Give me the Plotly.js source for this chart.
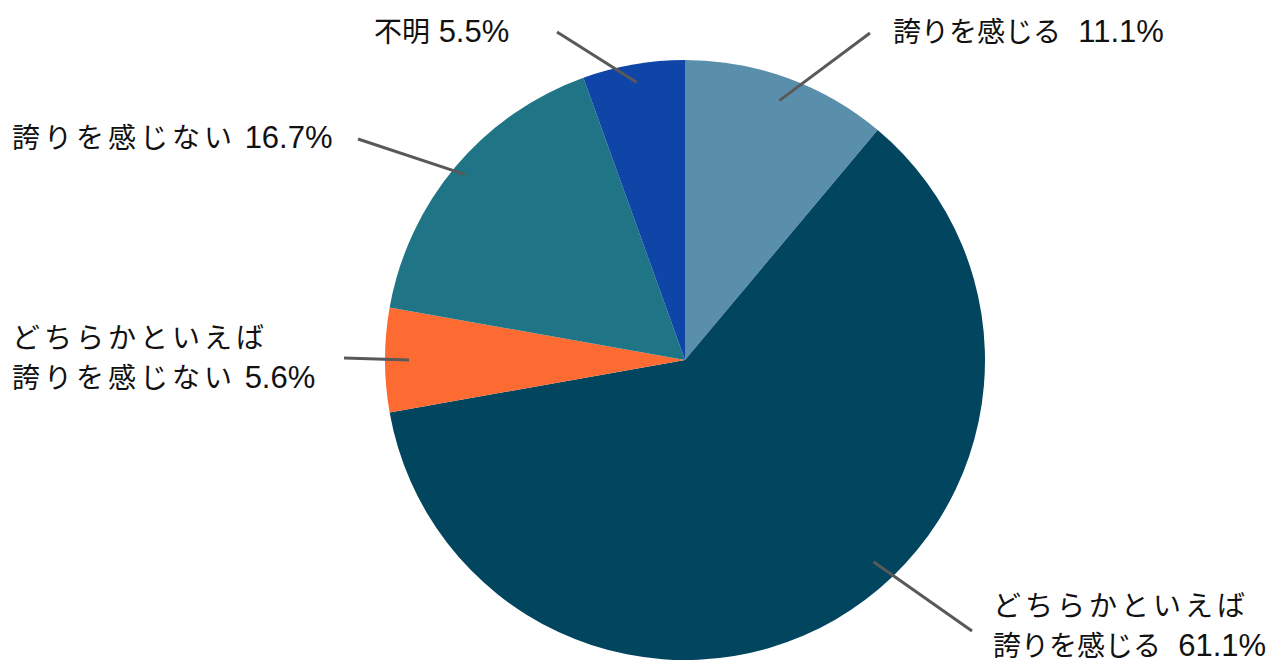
<!DOCTYPE html>
<html>
<head>
<meta charset="utf-8">
<script src="https://cdn.plot.ly/plotly-3.0.1.min.js"></script>
<style>
html,body{margin:0;padding:0;background:#fff;}
#chart{width:1286px;height:665px;}
</style>
</head>
<body>
<div id="chart"></div>
<script>
// ---- data ----
const categories = ["誇りを感じる", "どちらかといえば<br>誇りを感じる", "どちらかといえば<br>誇りを感じない", "誇りを感じない", "不明"];
const values = [11.1, 61.1, 5.6, 16.7, 5.5];
const colors = ["#5a8fab", "#02455f", "#fe6b32", "#1f7585", "#1045a8"];

// ---- label placement (layout only) ----
const W = 1286, H = 665;
const cx = 685, cy = 360, R = 300;
// per label: angle offset (deg), inner radius fraction, elbow end point (px), text anchor, gap, per-line letter spacing
const labelLayout = [
  {da: 0,   rf: 0.92, ex: 870, ey: 33,  tx: 891, ty: 30,  gap: "&nbsp;&nbsp;", ls: [0]},
  {da: -13, rf: 0.92, ex: 972, ey: 631, tx: 991, ty: 624, gap: "&nbsp;&nbsp;", ls: [4, 0]},
  {da: 0,   rf: 0.92, ex: 344, ey: 358, tx: 10,  ty: 356, gap: "&nbsp;", ls: [4, 4]},
  {da: 0,   rf: 0.96, ex: 358, ey: 139, tx: 10,  ty: 136, gap: "&nbsp;", ls: [4]},
  {da: 0,   rf: 0.94, ex: 557, ey: 32,  tx: 372, ty: 30,  gap: "&nbsp;", ls: [0]}
];

const total = values.reduce((a, b) => a + b, 0);
const px2x = p => p / W;
const px2y = p => 1 - p / H;

function cjk(s, ls) {
  return s.split("<br>").map((t, k) =>
    '<span style="font-family:\'Noto Sans CJK JP\';font-size:28px;letter-spacing:' + (ls[k] || 0) + 'px">' + t + '</span>'
  ).join("<br>");
}

const shapes = [];
const annotations = [];
let cum = 0;
values.forEach((v, i) => {
  const mid = (cum + v / 2) / total * 360;
  cum += v;
  const L = labelLayout[i];
  const a = (mid + L.da) * Math.PI / 180;
  const r = R * L.rf;
  const x0 = cx + r * Math.sin(a), y0 = cy - r * Math.cos(a);
  shapes.push({
    type: "line", xref: "paper", yref: "paper",
    x0: px2x(x0), y0: px2y(y0), x1: px2x(L.ex), y1: px2y(L.ey),
    line: {color: "#595959", width: 3}
  });
  annotations.push({
    xref: "paper", yref: "paper",
    x: px2x(L.tx), y: px2y(L.ty),
    xanchor: "left", yanchor: "middle", align: "left",
    showarrow: false,
    text: cjk(categories[i], L.ls) + L.gap + v.toFixed(1) + "%",
    font: {family: "Liberation Sans, Arial, sans-serif", size: 31, color: "#111111"}
  });
});

const trace = {
  type: "pie",
  labels: categories,
  values: values,
  marker: {colors: colors, line: {width: 0}},
  sort: false,
  direction: "clockwise",
  rotation: 0,
  textinfo: "none",
  hoverinfo: "none",
  domain: {x: [(cx - R) / W, (cx + R) / W], y: [1 - (cy + R) / H, 1 - (cy - R) / H]}
};

Plotly.newPlot("chart", [trace], {
  width: W, height: H,
  margin: {l: 0, r: 0, t: 0, b: 0},
  showlegend: false,
  paper_bgcolor: "#ffffff",
  font: {family: "Noto Sans CJK JP"},
  shapes: shapes,
  annotations: annotations
}, {displayModeBar: false, staticPlot: true});
</script>
</body>
</html>
